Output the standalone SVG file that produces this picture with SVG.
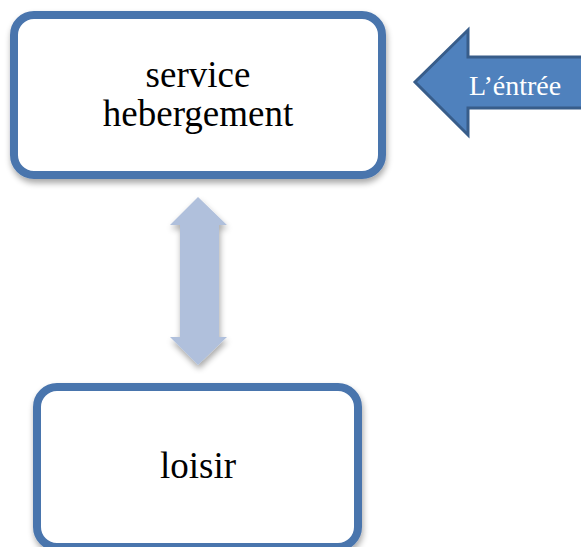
<svg xmlns="http://www.w3.org/2000/svg" width="581" height="547" viewBox="0 0 581 547">
<defs>
<filter id="sh" x="-10%" y="-10%" width="130%" height="130%">
<feGaussianBlur in="SourceAlpha" stdDeviation="3"/>
<feOffset dx="1" dy="4" result="b"/>
<feComponentTransfer><feFuncA type="linear" slope="0.35"/></feComponentTransfer>
<feMerge><feMergeNode/><feMergeNode in="SourceGraphic"/></feMerge>
</filter>
<style>
.box{fill:#fff;stroke:#4A75AD;stroke-width:8}
.lbl{font-family:"Liberation Serif","Times New Roman",serif;font-size:37px;fill:#000;text-anchor:middle}
.wl{font-family:"Liberation Serif","Times New Roman",serif;font-size:28px;fill:#fff;text-anchor:middle}
</style>
</defs>
<rect width="581" height="547" fill="#fff"/>
<g id="node-service">
<rect class="box" x="14" y="15" width="368" height="160" rx="20" filter="url(#sh)"/>
<text class="lbl" x="198" y="87">service</text>
<text class="lbl" x="198" y="126">hebergement</text>
</g>
<g id="node-entree">
<path d="M415,82 L468,30 L468,57 L590,57 L590,108 L468,108 L468,135 Z" fill="#4F81BD" stroke="#385D8A" stroke-width="3" stroke-linejoin="miter"/>
<text class="wl" x="515" y="95">L’éntrée</text>
</g>
<g id="node-loisir">
<rect class="box" x="37" y="387" width="321" height="160" rx="20" filter="url(#sh)"/>
<text class="lbl" x="198" y="478">loisir</text>
</g>
<g id="connectors">
<path d="M198,197 L227,225 L219,225 L219,337 L227,337 L198,365 L170,337 L180,337 L180,225 L170,225 Z" fill="#B0C0DC" filter="url(#sh)"/>
</g>
</svg>
